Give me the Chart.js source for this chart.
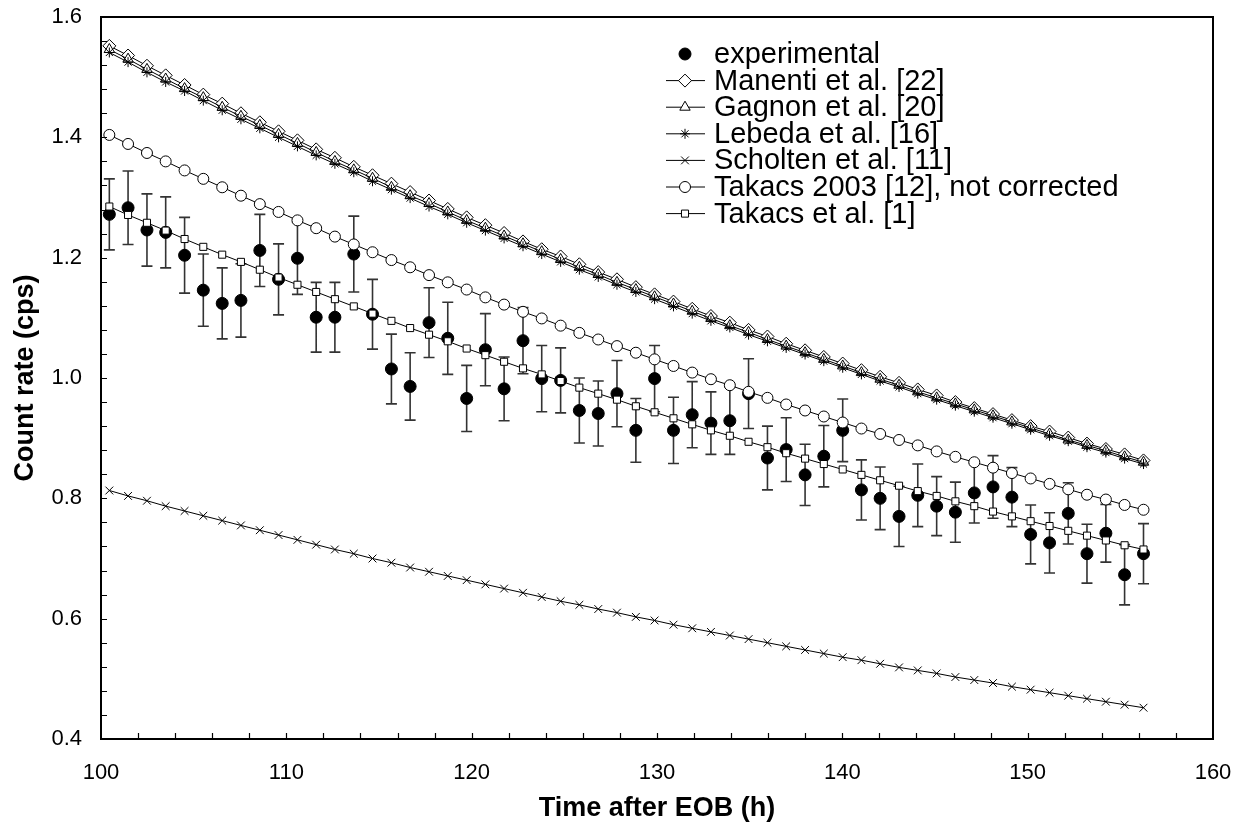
<!DOCTYPE html>
<html>
<head>
<meta charset="utf-8">
<title>Count rate vs time after EOB</title>
<script src="https://cdn.jsdelivr.net/npm/chart.js@4.4.1/dist/chart.umd.min.js"></script>
<style>
  html, body { margin: 0; padding: 0; background: #fff; }
</style>
</head>
<body>
<canvas id="decayChart" width="1233" height="829"></canvas>
<script>
// Time after EOB (h)
const times = [
  100.45, 101.46, 102.48, 103.49, 104.51, 105.52, 106.54, 107.55, 108.57, 109.58,
  110.60, 111.61, 112.62, 113.64, 114.65, 115.67, 116.68, 117.70, 118.71, 119.73,
  120.74, 121.75, 122.77, 123.78, 124.80, 125.81, 126.83, 127.84, 128.86, 129.87,
  130.89, 131.90, 132.91, 133.93, 134.94, 135.96, 136.97, 137.99, 139.00, 140.02,
  141.03, 142.04, 143.06, 144.07, 145.09, 146.10, 147.12, 148.13, 149.15, 150.16,
  151.18, 152.19, 153.20, 154.22, 155.23, 156.25
];

// measured count rate (cps) and its uncertainty
const experimental = [
  1.272, 1.283, 1.246, 1.242, 1.204, 1.146, 1.124, 1.129, 1.212, 1.164,
  1.199, 1.101, 1.101, 1.206, 1.106, 1.015, 0.986, 1.092, 1.066, 0.966,
  1.047, 0.982, 1.062, 0.999, 0.996, 0.946, 0.941, 0.974, 0.913, 0.999,
  0.913, 0.939, 0.925, 0.929, 0.974, 0.867, 0.881, 0.839, 0.870, 0.913,
  0.814, 0.800, 0.770, 0.805, 0.787, 0.777, 0.809, 0.819, 0.802, 0.740,
  0.726, 0.775, 0.708, 0.742, 0.673, 0.708
];
const experimentalErr = [
  0.059, 0.061, 0.060, 0.059, 0.063, 0.060, 0.059, 0.061, 0.060, 0.059,
  0.060, 0.058, 0.058, 0.063, 0.058, 0.058, 0.056, 0.058, 0.060, 0.055,
  0.060, 0.053, 0.055, 0.055, 0.054, 0.054, 0.054, 0.055, 0.053, 0.055,
  0.055, 0.055, 0.052, 0.056, 0.058, 0.053, 0.053, 0.051, 0.051, 0.052,
  0.050, 0.052, 0.050, 0.052, 0.049, 0.050, 0.050, 0.052, 0.049, 0.049,
  0.050, 0.051, 0.049, 0.048, 0.050, 0.050
];

// calculated count rates (cps)
const manenti = [
  1.552, 1.536, 1.519, 1.503, 1.487, 1.471, 1.456, 1.440, 1.425, 1.410,
  1.395, 1.380, 1.366, 1.351, 1.337, 1.323, 1.309, 1.295, 1.281, 1.267,
  1.254, 1.241, 1.227, 1.214, 1.202, 1.189, 1.176, 1.164, 1.151, 1.139,
  1.127, 1.115, 1.103, 1.092, 1.080, 1.069, 1.057, 1.046, 1.035, 1.024,
  1.013, 1.002, 0.992, 0.981, 0.971, 0.960, 0.950, 0.940, 0.930, 0.920,
  0.911, 0.901, 0.891, 0.882, 0.873, 0.863
];
const gagnon = [
  1.546, 1.530, 1.513, 1.497, 1.481, 1.466, 1.450, 1.435, 1.420, 1.405,
  1.390, 1.375, 1.360, 1.346, 1.332, 1.317, 1.303, 1.290, 1.276, 1.262,
  1.249, 1.236, 1.223, 1.210, 1.197, 1.184, 1.172, 1.159, 1.147, 1.135,
  1.123, 1.111, 1.099, 1.087, 1.076, 1.064, 1.053, 1.042, 1.031, 1.020,
  1.009, 0.998, 0.988, 0.977, 0.967, 0.957, 0.947, 0.937, 0.927, 0.917,
  0.907, 0.897, 0.888, 0.879, 0.869, 0.860
];
const lebeda = [
  1.541, 1.525, 1.508, 1.492, 1.477, 1.461, 1.445, 1.430, 1.415, 1.400,
  1.385, 1.370, 1.356, 1.342, 1.327, 1.313, 1.299, 1.285, 1.272, 1.258,
  1.245, 1.232, 1.219, 1.206, 1.193, 1.180, 1.168, 1.155, 1.143, 1.131,
  1.119, 1.107, 1.095, 1.084, 1.072, 1.061, 1.050, 1.039, 1.028, 1.017,
  1.006, 0.995, 0.985, 0.974, 0.964, 0.954, 0.944, 0.934, 0.924, 0.914,
  0.904, 0.895, 0.885, 0.876, 0.866, 0.857
];
const scholten = [
  0.813, 0.804, 0.796, 0.787, 0.779, 0.771, 0.763, 0.755, 0.747, 0.739,
  0.731, 0.723, 0.715, 0.708, 0.700, 0.693, 0.685, 0.678, 0.671, 0.664,
  0.657, 0.650, 0.643, 0.636, 0.629, 0.623, 0.616, 0.610, 0.603, 0.597,
  0.590, 0.584, 0.578, 0.572, 0.566, 0.560, 0.554, 0.548, 0.542, 0.536,
  0.531, 0.525, 0.519, 0.514, 0.509, 0.503, 0.498, 0.493, 0.487, 0.482,
  0.477, 0.472, 0.467, 0.462, 0.457, 0.452
];
const takacs2003 = [
  1.404, 1.389, 1.374, 1.360, 1.345, 1.331, 1.317, 1.303, 1.289, 1.276,
  1.262, 1.249, 1.235, 1.222, 1.209, 1.196, 1.184, 1.171, 1.159, 1.147,
  1.134, 1.122, 1.110, 1.099, 1.087, 1.075, 1.064, 1.053, 1.042, 1.031,
  1.020, 1.009, 0.998, 0.988, 0.977, 0.967, 0.956, 0.946, 0.936, 0.926,
  0.916, 0.907, 0.897, 0.888, 0.878, 0.869, 0.860, 0.851, 0.842, 0.833,
  0.824, 0.815, 0.806, 0.798, 0.789, 0.781
];
const takacs = [
  1.285, 1.271, 1.258, 1.245, 1.231, 1.218, 1.205, 1.193, 1.180, 1.167,
  1.155, 1.143, 1.131, 1.119, 1.107, 1.095, 1.083, 1.072, 1.061, 1.049,
  1.038, 1.027, 1.016, 1.006, 0.995, 0.984, 0.974, 0.964, 0.953, 0.943,
  0.933, 0.923, 0.913, 0.904, 0.894, 0.885, 0.875, 0.866, 0.857, 0.848,
  0.839, 0.830, 0.821, 0.812, 0.804, 0.795, 0.787, 0.778, 0.770, 0.762,
  0.754, 0.746, 0.738, 0.730, 0.722, 0.715
];

const seriesLabels = [
  'experimental',
  'Manenti et al. [22]',
  'Gagnon et al. [20]',
  'Lebeda et al. [16]',
  'Scholten et al. [11]',
  'Takacs 2003 [12], not corrected',
  'Takacs et al. [1]'
];

// axis ticks
const xTicks = [100, 110, 120, 130, 140, 150, 160];
const yTicks = [0.4, 0.6, 0.8, 1.0, 1.2, 1.4, 1.6];

const FONT = '"Liberation Sans", Arial, Helvetica, sans-serif';

const toPoints = arr => times.map((t, i) => ({ x: t, y: arr[i] }));

// marker for each model curve, same order as seriesLabels[1..]
const modelSeries = [
  { data: manenti,    pointStyle: 'rectRot',  radius: 6.5 },
  { data: gagnon,     pointStyle: 'triangle', radius: 6 },
  { data: lebeda,     pointStyle: 'star',     radius: 5 },
  { data: scholten,   pointStyle: 'crossRot', radius: 5.5 },
  { data: takacs2003, pointStyle: 'circle',   radius: 5.5 },
  { data: takacs,     pointStyle: 'rect',     radius: 5 },
];

const datasets = [{
  label: seriesLabels[0],
  data: toPoints(experimental),
  showLine: false,
  pointStyle: 'circle',
  pointRadius: 6,
  pointBackgroundColor: '#000',
  pointBorderColor: '#000',
  pointBorderWidth: 1,
  order: 6,
}].concat(modelSeries.map((s, i) => ({
  label: seriesLabels[i + 1],
  data: toPoints(s.data),
  showLine: true,
  borderColor: '#000',
  borderWidth: 1,
  tension: 0,
  pointStyle: s.pointStyle,
  pointRadius: s.radius,
  pointBackgroundColor: '#fff',
  pointBorderColor: '#000',
  pointBorderWidth: 1,
  order: 5 - i,
})));

// vertical error bars on the experimental points
const errorBars = {
  id: 'errorBars',
  beforeDatasetsDraw(chart) {
    const { ctx, scales: { x, y } } = chart;
    ctx.save();
    ctx.strokeStyle = '#333';
    ctx.lineWidth = 1.6;
    ctx.beginPath();
    times.forEach((t, i) => {
      const px = x.getPixelForValue(t);
      const top = y.getPixelForValue(experimental[i] + experimentalErr[i]);
      const bot = y.getPixelForValue(experimental[i] - experimentalErr[i]);
      ctx.moveTo(px, top); ctx.lineTo(px, bot);
      ctx.moveTo(px - 5.5, top); ctx.lineTo(px + 5.5, top);
      ctx.moveTo(px - 5.5, bot); ctx.lineTo(px + 5.5, bot);
    });
    ctx.stroke();
    ctx.restore();
  }
};

// box round the plot area plus inside tick marks (Excel style)
const frameTicks = {
  id: 'frameTicks',
  afterDatasetsDraw(chart) {
    const { ctx, chartArea: a, scales: { x, y } } = chart;
    ctx.save();
    ctx.strokeStyle = '#000';
    ctx.lineWidth = 1.2;
    ctx.beginPath();
    for (let v = 102; v < 160; v += 2) {
      const px = Math.round(x.getPixelForValue(v)) + 0.5;
      ctx.moveTo(px, a.bottom); ctx.lineTo(px, a.bottom - 6);
    }
    for (let k = 1; k < 30; k++) {
      const py = Math.round(y.getPixelForValue(0.4 + k * 0.04)) + 0.5;
      ctx.moveTo(a.left, py); ctx.lineTo(a.left + 6, py);
    }
    ctx.stroke();
    ctx.lineWidth = 2;
    ctx.strokeRect(a.left, a.top, a.right - a.left, a.bottom - a.top);
    ctx.restore();
  }
};

// legend drawn like the Excel one: line sample with marker in the middle
const legendBox = {
  id: 'legendBox',
  afterDraw(chart) {
    const { ctx } = chart;
    const rowY = k => 54 + k * 26.6;
    ctx.save();
    ctx.font = '29px ' + FONT;
    ctx.textBaseline = 'middle';
    chart.data.datasets.forEach((ds, k) => {
      const yy = rowY(k);
      if (ds.showLine) {
        ctx.strokeStyle = '#000';
        ctx.lineWidth = 1;
        ctx.beginPath();
        ctx.moveTo(666, yy); ctx.lineTo(705, yy);
        ctx.stroke();
      }
      ctx.fillStyle = ds.pointBackgroundColor;
      ctx.strokeStyle = '#000';
      ctx.lineWidth = 1;
      Chart.helpers.drawPoint(ctx, {
        pointStyle: ds.pointStyle, radius: ds.pointRadius, rotation: 0, borderWidth: 1
      }, 685, yy);
      ctx.fillStyle = '#000';
      ctx.fillText(ds.label, 714, yy + 1);
    });
    ctx.restore();
  }
};

new Chart(document.getElementById('decayChart').getContext('2d'), {
  type: 'scatter',
  data: { datasets },
  options: {
    responsive: false,
    animation: false,
    layout: { padding: { top: 17, right: 20, bottom: 0, left: 0 } },
    plugins: { legend: { display: false }, tooltip: { enabled: false } },
    scales: {
      x: {
        type: 'linear',
        min: 100, max: 160,
        afterBuildTicks: s => { s.ticks = xTicks.map(v => ({ value: v })); },
        afterFit: s => {
          s.height = 90;
          s.paddingLeft = 0; s.paddingRight = 0;
        },
        grid: { display: false, drawTicks: false },
        border: { display: false },
        ticks: { color: '#000', padding: 21, font: { family: FONT, size: 22 } },
        title: {
          display: true, text: 'Time after EOB (h)', color: '#000',
          font: { family: FONT, size: 27, weight: 'bold' }, padding: { top: 0, bottom: 4 }
        }
      },
      y: {
        type: 'linear',
        min: 0.4, max: 1.6,
        afterBuildTicks: s => { s.ticks = yTicks.map(v => ({ value: v })); },
        afterFit: s => {
          s.width = 101;
          s.paddingTop = 0; s.paddingBottom = 0;
        },
        grid: { display: false, drawTicks: false },
        border: { display: false },
        ticks: {
          color: '#000', padding: 19, font: { family: FONT, size: 22 },
          callback: v => v.toFixed(1)
        },
        title: {
          display: true, text: 'Count rate (cps)', color: '#000',
          font: { family: FONT, size: 27, weight: 'bold' }, padding: { top: 9, bottom: 0 }
        }
      }
    }
  },
  plugins: [errorBars, frameTicks, legendBox]
});
</script>
</body>
</html>
